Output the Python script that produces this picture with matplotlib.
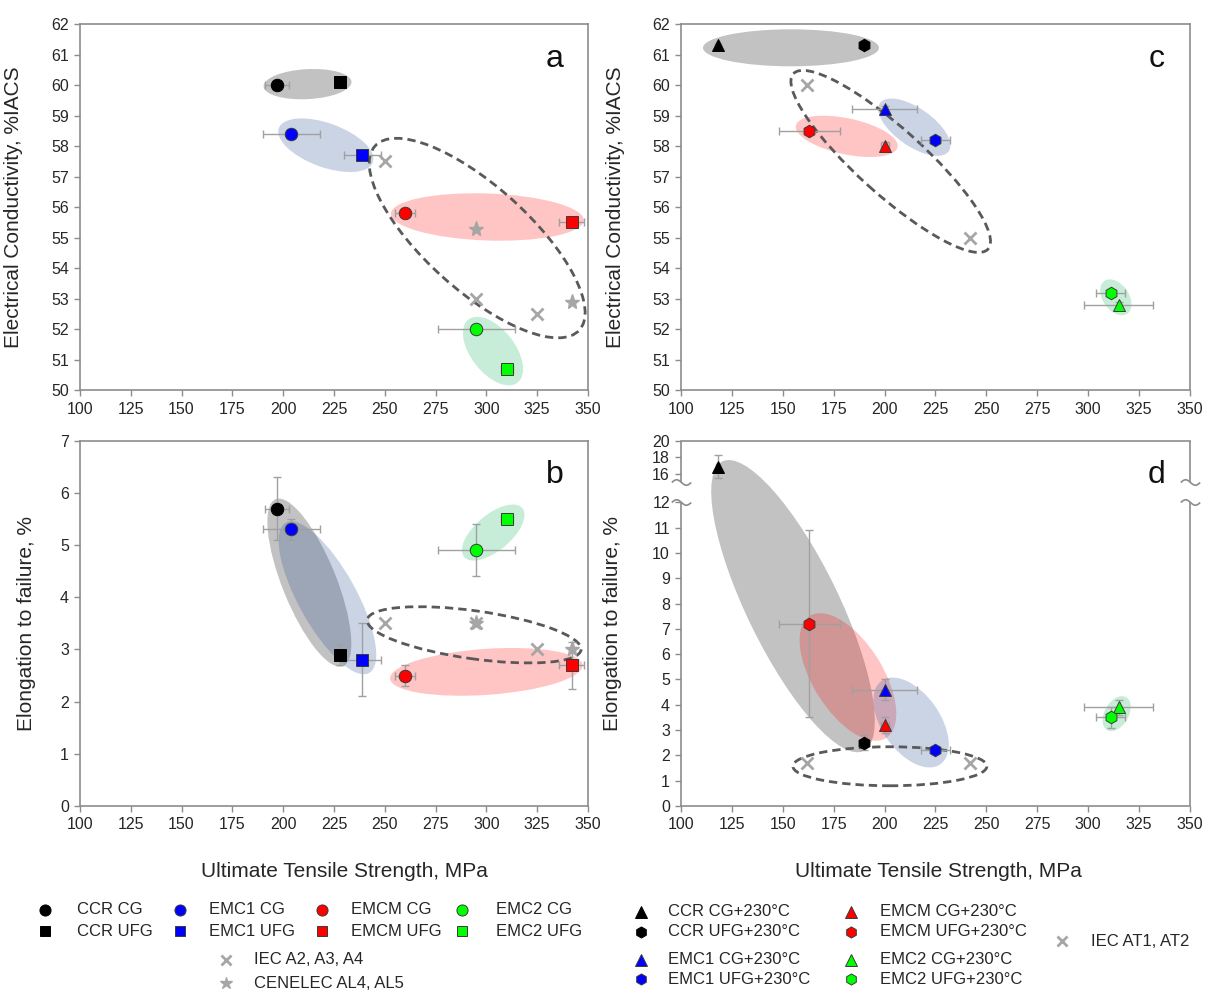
import numpy as np
import matplotlib
matplotlib.use("Agg")
import matplotlib.pyplot as plt
from matplotlib.patches import Ellipse
from matplotlib.path import Path
import matplotlib.transforms as mtransforms

plt.rcParams['font.family'] = ['Liberation Sans', 'DejaVu Sans']

# ---- as-processed wires (panels a, b) ----
names_ab = ["CCR CG", "CCR UFG", "EMC1 CG", "EMC1 UFG",
            "EMCM CG", "EMCM UFG", "EMC2 CG", "EMC2 UFG"]
uts_ab = [197, 228, 204, 239, 260, 342, 295, 310]
uts_ab_err = [6, 2, 14, 9, 5, 6, 19, 3]
ec_ab = [60.0, 60.1, 58.4, 57.7, 55.8, 55.5, 52.0, 50.7]
ec_ab_err = [0.1, 0.1, 0.1, 0.1, 0.1, 0.1, 0.1, 0.1]
elong_ab = [5.7, 2.9, 5.3, 2.8, 2.5, 2.7, 4.9, 5.5]
elong_ab_err = [0.6, 0.2, 0.2, 0.7, 0.2, 0.45, 0.5, 0.1]

# ---- after annealing at 230 C (panels c, d) ----
names_cd = ["CCR CG+230°C", "CCR UFG+230°C", "EMC1 CG+230°C", "EMC1 UFG+230°C",
            "EMCM CG+230°C", "EMCM UFG+230°C", "EMC2 CG+230°C", "EMC2 UFG+230°C"]
uts_cd = [118, 190, 200, 225, 200, 163, 315, 311]
uts_cd_err = [1, 1, 16, 7, 2, 15, 17, 7]
ec_cd = [61.3, 61.3, 59.2, 58.2, 58.0, 58.5, 52.8, 53.2]
ec_cd_err = [0.05, 0.05, 0.1, 0.1, 0.15, 0.1, 0.1, 0.1]
elong_cd = [16.9, 2.5, 4.6, 2.2, 3.2, 7.2, 3.9, 3.5]
elong_cd_err = [1.4, 0.3, 0.4, 0.1, 0.3, 3.7, 0.3, 0.4]

# ---- standards ----
iec_a_uts = [250, 295, 325]
iec_a_ec = [57.5, 53.0, 52.5]
iec_a_el = [3.5, 3.5, 3.0]
cenelec_uts = [295, 342]
cenelec_ec = [55.3, 52.9]
cenelec_el = [3.5, 3.0]
iec_at_uts = [162, 242]
iec_at_ec = [60.0, 55.0]
iec_at_el = [1.7, 1.7]

alloy_colors = ['#000000', '#000000', '#0000ff', '#0000ff',
                '#ff0000', '#ff0000', '#00ff00', '#00ff00']
markers_ab = ['o', 's'] * 4
markers_cd = ['^', 'h'] * 4

# highlight ellipses: centre (data), width/height (px), angle (deg)
blob_fill = {'gray': ('#000000', 0.24), 'blue': ('#284f96', 0.24),
             'red': ('#ff0000', 0.23), 'green': ('#00b050', 0.22)}
blobs_a = [('gray', 212, 60.03, 88, 30, 3), ('blue', 221, 58.03, 100, 44, -20),
           ('red', 300.5, 55.68, 193, 47, -2), ('green', 303.3, 51.29, 80, 44, -52),
           ('dash', 295.5, 54.99, 275, 104, -42)]
blobs_b = [('gray', 212.9, 4.28, 180, 54, -68), ('blue', 221.8, 3.99, 172, 58, -61),
           ('red', 300, 2.57, 193, 46, 4), ('green', 303.4, 5.24, 76, 36, 40),
           ('dash', 294, 3.28, 216, 48, -8)]
blobs_c = [('gray', 154, 61.22, 176, 37, 0), ('red', 181.4, 58.32, 104, 36, -12),
           ('blue', 214.6, 58.62, 84, 38, -35), ('green', 313.6, 53.05, 40, 26, -55),
           ('dash', 203, 57.5, 262, 66, -42)]
blobs_d = [('gray', 155, 7.9, 322, 92, -64), ('red', 182, 5.1, 144, 70, -58),
           ('blue', 213, 3.3, 102, 58, -55), ('green', 314, 3.65, 38, 24, 60),
           ('dash', 202.6, 1.57, 194, 39, 0)]

spine_c = '#8c8c8c'
err_c = '#a0a0a0'
std_c = '#a6a6a6'
txt_c = '#262626'
tick_fs = 11.5
label_fs = 15
leg_fs = 12

fig = plt.figure(figsize=(12.06, 9.91), dpi=100)
ax_a = fig.add_axes([0.0663, 0.606, 0.4212, 0.3698])
ax_c = fig.add_axes([0.5647, 0.606, 0.4220, 0.3698])
ax_b = fig.add_axes([0.0663, 0.1867, 0.4212, 0.3686])
ax_d = fig.add_axes([0.5647, 0.1867, 0.4220, 0.3686])


# broken y axis for panel d: 0-12 linear, 16-20 compressed
def d_fwd(y):
    y = np.asarray(y, dtype=float)
    return np.where(y <= 12, y, np.where(y <= 16, 12 + (y - 12) * 0.28,
                                         13.12 + (y - 16) * 0.33))


def d_inv(t):
    t = np.asarray(t, dtype=float)
    return np.where(t <= 12, t, np.where(t <= 13.12, 12 + (t - 12) / 0.28,
                                         16 + (t - 13.12) / 0.33))


ax_d.set_yscale('function', functions=(d_fwd, d_inv))


def add_blobs(ax, blobs):
    for kind, cx, cy, w, h, ang in blobs:
        tr = fig.dpi_scale_trans + mtransforms.ScaledTranslation(cx, cy, ax.transData)
        if kind == 'dash':
            e = Ellipse((0, 0), w / fig.dpi, h / fig.dpi, angle=ang, transform=tr,
                        facecolor='none', edgecolor='#595959', lw=2,
                        linestyle=(0, (3, 1.8)), zorder=2)
        else:
            col, a = blob_fill[kind]
            e = Ellipse((0, 0), w / fig.dpi, h / fig.dpi, angle=ang, transform=tr,
                        facecolor=col, alpha=a, edgecolor='none', zorder=1)
        ax.add_patch(e)


def add_series(ax, x, xerr, y, yerr, markers):
    for i in range(len(x)):
        ax.errorbar(x[i], y[i], xerr=xerr[i], yerr=yerr[i], fmt='none',
                    ecolor=err_c, elinewidth=1, capsize=3, capthick=1, zorder=3)
        edge = '#000000' if alloy_colors[i] == '#000000' else '#3a3a3a'
        ax.plot(x[i], y[i], marker=markers[i], color=alloy_colors[i],
                mec=edge, mew=0.7, ms=9 if markers[i] != 's' else 8.5,
                linestyle='none', zorder=4)


def style_axes(ax, letter):
    ax.set_xlim(100, 350)
    ax.set_xticks(np.arange(100, 351, 25))
    for s in ax.spines.values():
        s.set_color(spine_c)
        s.set_linewidth(1.2)
    ax.tick_params(direction='out', length=4, width=1, color=spine_c,
                   labelsize=tick_fs, labelcolor=txt_c, pad=4)
    ax.text(0.935, 0.905, letter, transform=ax.transAxes, fontsize=23,
            ha='center', va='center', color='#111111')


# panel a
add_blobs(ax_a, blobs_a)
add_series(ax_a, uts_ab, uts_ab_err, ec_ab, ec_ab_err, markers_ab)
ax_a.plot(iec_a_uts, iec_a_ec, 'x', color=std_c, ms=8, mew=2, zorder=4)
ax_a.plot(cenelec_uts, cenelec_ec, '*', color=std_c, ms=11, zorder=4)
style_axes(ax_a, 'a')
ax_a.set_ylim(50, 62)
ax_a.set_yticks(np.arange(50, 63, 1))
ax_a.set_ylabel('Electrical Conductivity, %IACS', fontsize=label_fs, color=txt_c)
ax_a.yaxis.set_label_coords(-0.113, 0.5)

# panel c
add_blobs(ax_c, blobs_c)
add_series(ax_c, uts_cd, uts_cd_err, ec_cd, ec_cd_err, markers_cd)
ax_c.plot(iec_at_uts, iec_at_ec, 'x', color=std_c, ms=8, mew=2, zorder=4)
style_axes(ax_c, 'c')
ax_c.set_ylim(50, 62)
ax_c.set_yticks(np.arange(50, 63, 1))
ax_c.set_ylabel('Electrical Conductivity, %IACS', fontsize=label_fs, color=txt_c)
ax_c.yaxis.set_label_coords(-0.11, 0.5)

# panel b
add_blobs(ax_b, blobs_b)
add_series(ax_b, uts_ab, uts_ab_err, elong_ab, elong_ab_err, markers_ab)
ax_b.plot(iec_a_uts, iec_a_el, 'x', color=std_c, ms=8, mew=2, zorder=4)
ax_b.plot(cenelec_uts, cenelec_el, '*', color=std_c, ms=11, zorder=4)
style_axes(ax_b, 'b')
ax_b.set_ylim(0, 7)
ax_b.set_yticks(np.arange(0, 8, 1))
ax_b.set_ylabel('Elongation to failure, %', fontsize=label_fs, color=txt_c)
ax_b.yaxis.set_label_coords(-0.087, 0.5)
ax_b.set_xlabel('Ultimate Tensile Strength, MPa', fontsize=label_fs, color=txt_c)
ax_b.xaxis.set_label_coords(0.52, -0.153)

# panel d
add_blobs(ax_d, blobs_d)
add_series(ax_d, uts_cd, uts_cd_err, elong_cd, elong_cd_err, markers_cd)
ax_d.plot(iec_at_uts, iec_at_el, 'x', color=std_c, ms=8, mew=2, zorder=4)
style_axes(ax_d, 'd')
ax_d.set_ylim(0, 20)
ax_d.set_yticks(list(range(0, 13)) + [16, 18, 20])
ax_d.yaxis.set_minor_locator(matplotlib.ticker.NullLocator())
ax_d.set_ylabel('Elongation to failure, %', fontsize=label_fs, color=txt_c)
ax_d.yaxis.set_label_coords(-0.116, 0.5)
ax_d.set_xlabel('Ultimate Tensile Strength, MPa', fontsize=label_fs, color=txt_c)
ax_d.xaxis.set_label_coords(0.505, -0.153)

# redraw the side spines of panel d with a break between 12 and 16
ax_d.spines['left'].set_visible(False)
ax_d.spines['right'].set_visible(False)
sx = np.linspace(-1, 1, 40)
squiggle = Path(np.column_stack([sx, -0.28 * np.sin(np.pi * sx)]))
break_lo, break_hi = 12, 14.93
for xs in (0, 1):
    ytr = ax_d.get_yaxis_transform()
    ax_d.plot([xs, xs], [0, break_lo], color=spine_c, lw=1.2, transform=ytr,
              clip_on=False, solid_capstyle='butt', zorder=5)
    ax_d.plot([xs, xs], [break_hi, 20], color=spine_c, lw=1.2, transform=ytr,
              clip_on=False, solid_capstyle='butt', zorder=5)
    ax_d.plot([xs, xs], [break_lo, break_hi], color='none', marker=squiggle,
              ms=14, mfc='none', mec=spine_c, mew=1.2, linestyle='none',
              transform=ytr, clip_on=False, zorder=5)

# legend block drawn in figure pixel space
lax = fig.add_axes([0, 0, 1, 1], zorder=-5)
lax.set_xlim(0, 1206)
lax.set_ylim(991, 0)
lax.axis('off')

col_mx = [45, 180, 322, 462]
col_tx = [77, 209, 351, 496]
for k in range(4):
    for r, y in enumerate([910, 931]):
        i = 2 * k + r
        lax.plot(col_mx[k], y, marker=markers_ab[i], color=alloy_colors[i],
                 mec='#000000' if alloy_colors[i] == '#000000' else '#3a3a3a',
                 mew=0.7, ms=8 if markers_ab[i] == 'o' else 7.5, linestyle='none')
        lax.text(col_tx[k], y, names_ab[i], fontsize=leg_fs, va='center', color=txt_c)
lax.plot(226, 960, 'x', color=std_c, ms=7, mew=2)
lax.text(254, 960, 'IEC A2, A3, A4', fontsize=leg_fs, va='center', color=txt_c)
lax.plot(226, 983, '*', color=std_c, ms=9)
lax.text(254, 983, 'CENELEC AL4, AL5', fontsize=leg_fs, va='center', color=txt_c)

rows_cd = [912, 932, 960, 979]
for k, (mx, tx) in enumerate([(641, 668), (851, 880)]):
    for r in range(4):
        i = 4 * k + r
        lax.plot(mx, rows_cd[r], marker=markers_cd[i], color=alloy_colors[i],
                 mec='#000000' if alloy_colors[i] == '#000000' else '#3a3a3a',
                 mew=0.7, ms=8, linestyle='none')
        lax.text(tx, rows_cd[r], names_cd[i], fontsize=leg_fs, va='center', color=txt_c)
lax.plot(1062, 941, 'x', color=std_c, ms=7, mew=2)
lax.text(1091, 941, 'IEC AT1, AT2', fontsize=leg_fs, va='center', color=txt_c)

fig.savefig('out.png', dpi=100)
